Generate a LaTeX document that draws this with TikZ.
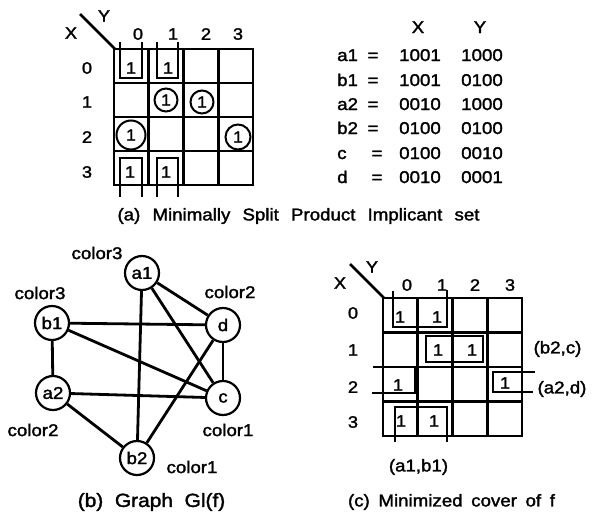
\documentclass[tikz,border=0pt]{standalone}
\usepackage{fontspec}
\setmainfont{Liberation Sans}[FakeStretch=1.1,FakeBold=1.8]
\begin{document}
\begin{tikzpicture}[x=1pt,y=-1pt,
  kgrid/.style={line width=2.6pt},
  imp/.style={line width=2.2pt},
  lbl/.style={font=\fontsize{17}{20}\selectfont, inner sep=0pt},
  mlbl/.style={font=\fontsize{16.5}{19}\selectfont, inner sep=0pt},
  tlbl/.style={font=\fontsize{17}{20}\selectfont, inner sep=0pt, anchor=base},
  captxt/.style={font=\fontsize{17}{20}\selectfont, inner sep=0pt},
  ring/.style={circle, draw, line width=2pt, inner sep=0pt, font=\fontsize{16}{19}\selectfont},
  vtx/.style={circle, draw, line width=2.2pt, minimum size=34pt, inner sep=0pt, fill=white, font=\fontsize{17}{20}\selectfont},
  edge/.style={line width=2.8pt}]
\useasboundingbox (0,0) rectangle (594,514);
% ---------- (a) map ----------
\draw[kgrid] (114,49) rectangle (253,185);
\foreach \x in {148.75,183.5,218.25} \draw[kgrid] (\x,49) -- (\x,185);
\foreach \y in {83,117,151} \draw[kgrid] (114,\y) -- (253,\y);
\draw[kgrid] (80,14) -- (115,49);
\node[mlbl] (aX) at (71,33) {X};
\node[mlbl] (aY) at (104,16) {Y};
\node[mlbl] (ac0) at (138,34) {0};
\node[mlbl] (ac1) at (173,34) {1};
\node[mlbl] (ac2) at (206,34) {2};
\node[mlbl] (ac3) at (238,34) {3};
\node[mlbl] (ar0) at (87,68) {0};
\node[mlbl] (ar1) at (87,102) {1};
\node[mlbl] (ar2) at (87,137) {2};
\node[mlbl] (ar3) at (87,172) {3};
% implicant brackets
\draw[imp] (120,42) -- (120,78) -- (142,78) -- (142,42);
\draw[imp] (157,42) -- (157,78) -- (178,78) -- (178,42);
\draw[imp] (120,197) -- (120,158) -- (142,158) -- (142,197);
\draw[imp] (157,197) -- (157,158) -- (178,158) -- (178,197);
\node[mlbl] (m00) at (131,68) {1};
\node[mlbl] (m01) at (168,68) {1};
\node[mlbl] (m30) at (130,172) {1};
\node[mlbl] (m31) at (166,172) {1};
\node[ring, minimum size=23pt] (m11) at (166,100) {1};
\node[ring, minimum size=23pt] (m12) at (202,102) {1};
\node[ring, minimum size=29pt] (m20) at (131,135) {1};
\node[ring, minimum size=25pt] (m23) at (238,137) {1};
% table
\node[tlbl] (tX) at (418,33) {X};
\node[tlbl] (tY) at (480,33) {Y};
\foreach \n/\e/\a/\b/\yy [count=\i] in {a1/373/1001/1000/61, b1/373/1001/0100/86, a2/373/0010/1000/110, b2/373/0100/0100/134, c/377/0100/0010/159, d/377/0010/0001/183}{
  \node[tlbl, anchor=base west] (tn\i) at (337,\yy) {\n};
  \node[tlbl] (te\i) at (\e,\yy) {=};
  \node[tlbl] (tx\i) at (420,\yy) {\a};
  \node[tlbl] (ty\i) at (482,\yy) {\b};
}
\node[captxt] (capa) at (298.5,216) {\makebox[362pt][s]{(a) Minimally Split Product Implicant set}};
% ---------- (b) graph ----------
\node[vtx] (a1) at (142,273) {a1};
\node[vtx] (b1) at (52,323) {b1};
\node[vtx] (d) at (223,325) {d};
\node[vtx] (a2) at (53,393) {a2};
\node[vtx] (c) at (223,398) {c};
\node[vtx] (b2) at (137,458) {b2};
\draw[edge] (a1) -- (b2);
\draw[edge] (a1) -- (d);
\draw[edge] (a1) -- (c);
\draw[edge] (b1) -- (d);
\draw[edge] (b1) -- (c);
\draw[edge] (b1) -- (a2);
\draw[edge] (a2) -- (c);
\draw[edge] (a2) -- (b2);
\draw[edge] (d) -- (c);
\draw[edge] (d) -- (b2);
\node[lbl] (la1) at (97,253) {color3};
\node[lbl] (lb1) at (40,293) {color3};
\node[lbl] (ld) at (230,292) {color2};
\node[lbl] (la2) at (33,430) {color2};
\node[lbl] (lc) at (228,430) {color1};
\node[lbl] (lb2) at (192,467) {color1};
\node[captxt, font=\fontsize{19}{22}\selectfont] (capb) at (151.5,502) {(b)\ \ Graph\ \ Gl(f)};
% ---------- (c) map ----------
\draw[kgrid] (383,298) rectangle (522,436);
\foreach \x in {417.75,452.5,487.25} \draw[kgrid] (\x,298) -- (\x,436);
\foreach \y in {332.5,367,401.5} \draw[kgrid] (383,\y) -- (522,\y);
\draw[kgrid] (350,264) -- (384,298);
\node[mlbl] (cX) at (340,283) {X};
\node[mlbl] (cY) at (372,267) {Y};
\node[mlbl] (cc0) at (407,285) {0};
\node[mlbl] (cc1) at (442,285) {1};
\node[mlbl] (cc2) at (475,285) {2};
\node[mlbl] (cc3) at (510,285) {3};
\node[mlbl] (cr0) at (353,313) {0};
\node[mlbl] (cr1) at (353,350) {1};
\node[mlbl] (cr2) at (353,387) {2};
\node[mlbl] (cr3) at (353,422) {3};
\draw[imp] (393,291) -- (393,327) -- (447,327) -- (447,290);
\draw[imp] (395,442) -- (395,407) -- (447,407) -- (447,442);
\draw[imp] (426,336) rectangle (483,362);
\draw[imp] (373,367) -- (415,367) -- (415,393) -- (372,393);
\draw[imp] (535,372) -- (493,372) -- (493,392) -- (533,392);
\node[mlbl] (n00) at (400,317) {1};
\node[mlbl] (n01) at (437,317) {1};
\node[mlbl] (n11) at (438,350) {1};
\node[mlbl] (n12) at (472,350) {1};
\node[mlbl] (n20) at (398,385) {1};
\node[mlbl] (n23) at (505,383) {1};
\node[mlbl] (n30) at (401,421) {1};
\node[mlbl] (n31) at (434,421) {1};
\node[lbl] (lbc) at (557.5,349) {(b2,c)};
\node[lbl] (lad) at (562,389) {(a2,d)};
\node[lbl] (lab) at (418.5,467) {(a1,b1)};
\node[captxt] (capc) at (451.5,502) {\makebox[207pt][s]{(c) Minimized cover of f}};
\end{tikzpicture}
\end{document}
